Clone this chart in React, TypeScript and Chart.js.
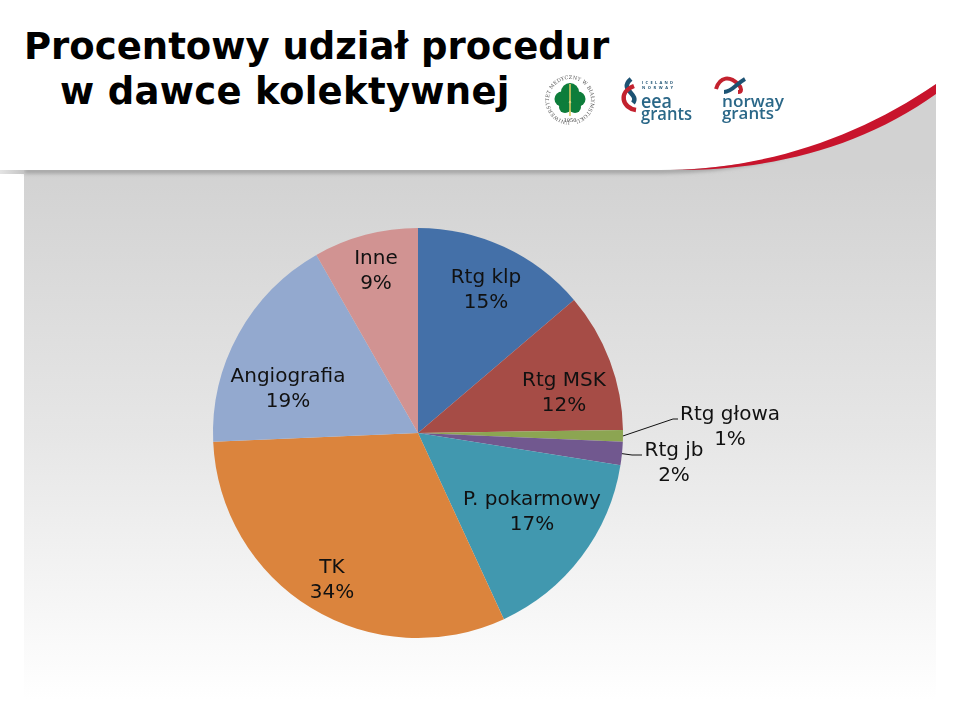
import React, { useEffect, useRef } from "react";
import { Chart, registerables } from "chart.js";

Chart.register(...registerables);

const categories = ["Rtg klp", "Rtg MSK", "Rtg głowa", "Rtg jb", "P. pokarmowy", "TK", "Angiografia", "Inne"];
const percentLabels = ["15%", "12%", "1%", "2%", "17%", "34%", "19%", "9%"];
const values = [15, 12, 1, 2, 17, 34, 19, 9];
const colors = ["#4470a8", "#a64c46", "#8ca552", "#71588f", "#4198af", "#db843d", "#93a9cf", "#d19392"];
// label centre relative to the pie centre
const labelDx = [68, 146, 312, 256, 114, -86, -130, -42];
const labelDy = [-145, -42, -8, 28, 77, 145, -46, -164];
// leader lines: [elbow dx, elbow dy, end dx, end dy] relative to the pie centre
const leaderPoints = [null, null, [255, -14, 260, -14], [214, 22, 224, 22], null, null, null, null] as (number[] | null)[];

const labelPlugin = {
  id: "pieLabels",
  afterDatasetsDraw(chart: any) {
    const { ctx } = chart;
    const arcs = chart.getDatasetMeta(0).data;
    ctx.save();
    ctx.textAlign = "center";
    ctx.textBaseline = "middle";
    ctx.fillStyle = "#111";
    ctx.font = '20px "DejaVu Sans"';
    arcs.forEach((arc: any, i: number) => {
      const cx = arc.x;
      const cy = arc.y;
      const tx = cx + labelDx[i];
      const ty = cy + labelDy[i];
      ctx.fillText(categories[i], tx, ty - 10);
      ctx.fillText(percentLabels[i], tx, ty + 15);
      const p = leaderPoints[i];
      if (p) {
        const mid = (arc.startAngle + arc.endAngle) / 2;
        ctx.beginPath();
        ctx.moveTo(cx + Math.cos(mid) * arc.outerRadius, cy + Math.sin(mid) * arc.outerRadius);
        ctx.lineTo(cx + p[0], cy + p[1]);
        ctx.lineTo(cx + p[2], cy + p[3]);
        ctx.strokeStyle = "#111";
        ctx.lineWidth = 1;
        ctx.stroke();
      }
    });
    ctx.restore();
  },
};

function Backdrop() {
  const blue = "#2b6788";
  const logoFont = '"Open Sans"';
  return (
    <svg width={960} height={704} style={{ position: "absolute", left: 0, top: 0 }}>
      <defs>
        <linearGradient id="panel" gradientUnits="userSpaceOnUse" x1="0" y1="170" x2="0" y2="700">
          <stop offset="0" stopColor="#d2d2d2" />
          <stop offset="0.5" stopColor="#e6e6e6" />
          <stop offset="1" stopColor="#ffffff" />
        </linearGradient>
        <linearGradient id="fade" x1="0" y1="0" x2="1" y2="0">
          <stop offset="0" stopColor="#e4e4e4" />
          <stop offset="1" stopColor="#c4c4c4" />
        </linearGradient>
        <filter id="soft" x="-5%" y="-50%" width="110%" height="200%">
          <feGaussianBlur stdDeviation="2" />
        </filter>
        <filter id="tiny">
          <feGaussianBlur stdDeviation="0.35" />
        </filter>
        <path id="ring" d="M570 121 A21 21 0 1 1 570.01 121" />
      </defs>
      <rect x={24} y={80} width={912} height={624} fill="url(#panel)" />
      <path d="M24 171 H660 C 770 170, 850 140, 936 88" fill="none" stroke="#959595" strokeWidth={4} filter="url(#soft)" />
      <path d="M0 0 H936 V84 C 860 138, 770 170, 660 170 H0 Z" fill="#ffffff" />
      <rect x={0} y={170} width={24} height={4} fill="url(#fade)" />
      <rect x={936} y={0} width={24} height={704} fill="#ffffff" />
      <path d="M670 170 C 770 168, 860 136, 936 84 V94 C 860 148, 770 171, 670 170 Z" fill="#c8142c" />

      <g filter="url(#tiny)">
        <text fontFamily="DejaVu Serif" fontSize={5} fill="#555" textLength={126}>
          <textPath href="#ring">UNIWERSYTET MEDYCZNY W BIAŁYMSTOKU</textPath>
        </text>
        <g fill="#0f7d3a">
          <circle cx={570} cy={92} r={9} />
          <circle cx={562} cy={99} r={7.5} />
          <circle cx={578} cy={99} r={7.5} />
          <circle cx={565} cy={107} r={6} />
          <circle cx={575} cy={107} r={6} />
        </g>
        <path d="M570 84 V116" stroke="#d8c860" strokeWidth={1.6} />
        <text x={570} y={122} textAnchor="middle" fontFamily="DejaVu Serif" fontSize={5} fill="#333">1950</text>

        <path d="M631 79 C 618 90, 640 94, 633 103" fill="none" stroke="#1f5273" strokeWidth={4.5} />
        <path d="M634 86 C 618 92, 622 108, 636 110" fill="none" stroke="#c3202f" strokeWidth={4.5} />
        <text x={642} y={84} fontFamily={logoFont} fontWeight={700} fontSize={4} fill="#1f5273" textLength={31}>ICELAND</text>
        <text x={642} y={89} fontFamily={logoFont} fontWeight={700} fontSize={4} fill="#1f5273" textLength={31}>NORWAY</text>
        <text x={641} y={108} fontFamily={logoFont} fontWeight={600} fontSize={20} fill={blue} textLength={31} lengthAdjust="spacingAndGlyphs">eea</text>
        <text x={641} y={120} fontFamily={logoFont} fontWeight={600} fontSize={18} fill={blue} textLength={51} lengthAdjust="spacingAndGlyphs">grants</text>

        <path d="M716 89 C 720 76, 730 76, 738 84 C 742 88, 742 92, 738 92" fill="none" stroke="#c3202f" strokeWidth={4} />
        <path d="M724 92 C 732 92, 736 84, 745 79" fill="none" stroke="#1f5273" strokeWidth={4} />
        <text x={722} y={107} fontFamily={logoFont} fontWeight={600} fontSize={17} fill={blue} textLength={62} lengthAdjust="spacingAndGlyphs">norway</text>
        <text x={722} y={119} fontFamily={logoFont} fontWeight={600} fontSize={17} fill={blue} textLength={52} lengthAdjust="spacingAndGlyphs">grants</text>
      </g>
    </svg>
  );
}

export default function App() {
  const ref = useRef<HTMLCanvasElement>(null);
  useEffect(() => {
    document.body.style.margin = "0";
    const chart = new Chart(ref.current!, {
      type: "pie",
      data: {
        labels: categories,
        datasets: [{ data: values, backgroundColor: colors, borderWidth: 0 }],
      },
      options: {
        animation: false,
        responsive: false,
        radius: 205,
        layout: { padding: { top: 162, bottom: 0, left: 0, right: 124 } },
        plugins: { legend: { display: false }, tooltip: { enabled: false }, title: { display: false } },
      },
      plugins: [labelPlugin],
    } as any);
    return () => chart.destroy();
  }, []);
  const titleStyle: React.CSSProperties = {
    position: "absolute",
    fontFamily: '"DejaVu Sans"',
    fontWeight: "bold",
    fontSize: 37,
    lineHeight: "44px",
    color: "#000",
    whiteSpace: "nowrap",
  };
  return (
    <div style={{ position: "relative", width: 960, height: 704, overflow: "hidden", background: "#fff" }}>
      <Backdrop />
      <div style={{ ...titleStyle, left: 24, top: 25 }}>Procentowy udział procedur</div>
      <div style={{ ...titleStyle, left: 60, top: 70, letterSpacing: 0.3 }}>w dawce kolektywnej</div>
      <canvas ref={ref} width={960} height={704} style={{ position: "absolute", left: 0, top: 0 }} />
    </div>
  );
}
